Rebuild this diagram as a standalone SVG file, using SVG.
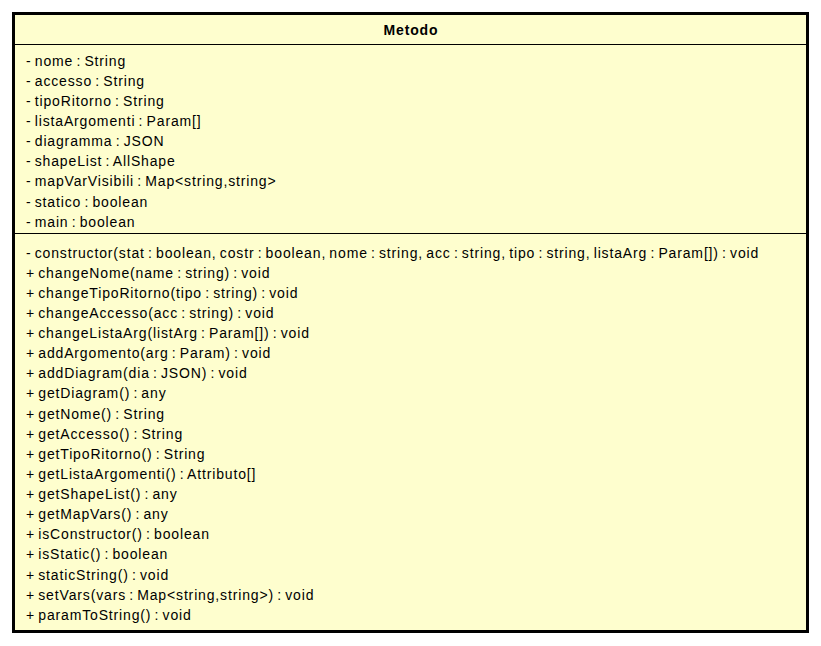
<svg xmlns="http://www.w3.org/2000/svg" width="821" height="646" viewBox="0 0 821 646">
<style>
text{font-family:"Liberation Sans",Arial,sans-serif;font-size:14px;fill:#000;letter-spacing:0.85px;word-spacing:-1.5px}
.t{font-weight:bold;text-anchor:middle}
.sep{stroke:#000;stroke-width:1}
</style>
<rect width="821" height="646" fill="#fff"/>
<g id="Metodo">
<rect x="13.5" y="13.5" width="794" height="618" fill="#FEFECE" stroke="#000" stroke-width="3"/>
<text class="t" x="411" y="35">Metodo</text>
<line class="sep" x1="15" y1="44.5" x2="806" y2="44.5"/>
<g>
<text x="26" y="66">- nome : String</text>
<text x="26" y="86">- accesso : String</text>
<text x="26" y="106">- tipoRitorno : String</text>
<text x="26" y="126">- listaArgomenti : Param[]</text>
<text x="26" y="146">- diagramma : JSON</text>
<text x="26" y="166">- shapeList : AllShape</text>
<text x="26" y="186">- mapVarVisibili : Map&lt;string,string&gt;</text>
<text x="26" y="207">- statico : boolean</text>
<text x="26" y="227">- main : boolean</text>
</g>
<line class="sep" x1="15" y1="233.5" x2="806" y2="233.5"/>
<g>
<text x="26" y="258">- constructor(stat : boolean, costr : boolean, nome : string, acc : string, tipo : string, listaArg : Param[]) : void</text>
<text x="26" y="278">+ changeNome(name : string) : void</text>
<text x="26" y="298">+ changeTipoRitorno(tipo : string) : void</text>
<text x="26" y="318">+ changeAccesso(acc : string) : void</text>
<text x="26" y="338">+ changeListaArg(listArg : Param[]) : void</text>
<text x="26" y="358">+ addArgomento(arg : Param) : void</text>
<text x="26" y="378">+ addDiagram(dia : JSON) : void</text>
<text x="26" y="398">+ getDiagram() : any</text>
<text x="26" y="419">+ getNome() : String</text>
<text x="26" y="439">+ getAccesso() : String</text>
<text x="26" y="459">+ getTipoRitorno() : String</text>
<text x="26" y="479">+ getListaArgomenti() : Attributo[]</text>
<text x="26" y="499">+ getShapeList() : any</text>
<text x="26" y="519">+ getMapVars() : any</text>
<text x="26" y="539">+ isConstructor() : boolean</text>
<text x="26" y="559">+ isStatic() : boolean</text>
<text x="26" y="580">+ staticString() : void</text>
<text x="26" y="600">+ setVars(vars : Map&lt;string,string&gt;) : void</text>
<text x="26" y="620">+ paramToString() : void</text>
</g>
</g>
</svg>
